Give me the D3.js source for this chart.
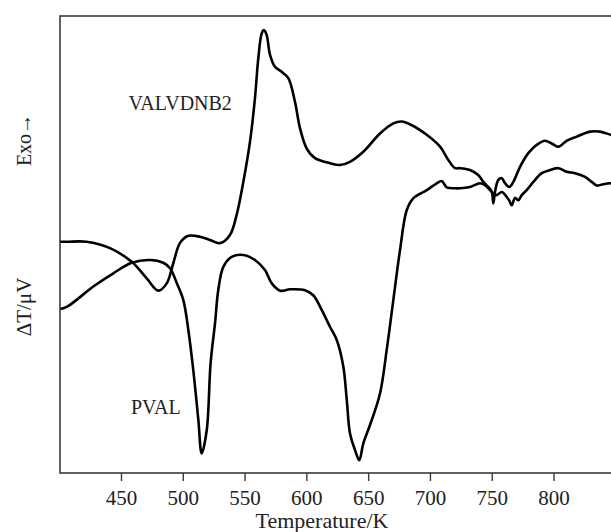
<!DOCTYPE html>
<html>
<head>
<meta charset="utf-8">
<script src="https://cdn.jsdelivr.net/npm/d3@7"></script>
<style>
  body { margin: 0; background: #fff; }
  svg text { font-family: "Liberation Serif", "DejaVu Serif", serif !important; fill: #222; }
</style>
</head>
<body>
<svg id="chart" width="611" height="532"></svg>
<script>
// DTA curves, temperature in K, signal in arbitrary units (0 = bottom of frame, 100 = top)
const tempV = [401, 406.5, 422.2, 441.1, 458.7, 470.8, 480.2, 487, 492.3, 497.7, 504.5, 513.9, 522, 530.1,
  538.2, 543.6, 549, 554.4, 558.4, 561.1, 563.9, 565.7, 567.9, 570.6, 574.6, 580, 585.4, 590.8, 594.9,
  600.3, 607, 619.1, 627.2, 635.3, 646.1, 659.6, 670.4, 677.2, 685.3, 697.4, 708.2, 714.9, 720.3, 724.3,
  732.4, 739.1, 743.2, 747.2, 750, 751.3, 752.7, 755.3, 758.1, 760.8, 764.2, 767.5, 772.9, 779.6, 786.4,
  793.1, 798.5, 803.9, 810.7, 818.8, 829.5, 837.6, 846.5, 850];
const valV = [50.6, 50.6, 50.6, 49.2, 46.2, 42.6, 39.9, 41.5, 45.9, 50.3, 51.9, 51.7, 51.0, 50.3,
  52.1, 56.5, 63.7, 72.5, 82.0, 90.7, 96.2, 96.9, 95.8, 91.5, 88.9, 87.8, 86.4, 81.2, 75.4,
  71.0, 68.9, 67.8, 67.4, 68.1, 70.3, 74.3, 76.5, 76.9, 76.1, 74.0, 71.4, 68.5, 66.7, 66.7,
  66.3, 65.2, 63.7, 62.6, 61.6, 59.0, 61.6, 64.1, 64.5, 63.4, 62.6, 63.7, 67.0, 70.0, 71.8,
  72.7, 72.1, 71.4, 72.7, 73.6, 74.7, 74.7, 74.0, 73.8];

const tempP = [401, 406.5, 427.6, 443.8, 458.7, 473.5, 484.2, 489.7, 495.1, 500.4, 504.5, 508.5, 512.6,
  515.3, 519.4, 522.5, 526.1, 528.7, 532.8, 539.6, 549, 558.4, 566.5, 572, 578.7, 586.8, 598.9, 605.6,
  612.4, 619.1, 624.6, 629.9, 632.7, 635.3, 639.4, 642.8, 646.1, 651.5, 659.6, 665, 670.4, 675.8, 681.2,
  686.5, 697.4, 705.5, 709.5, 713.6, 720.3, 724.3, 732.4, 740.5, 744.6, 748.6, 753.5, 758.3, 761.6, 764,
  766.2, 768.8, 771.5, 774.3, 778.3, 783.7, 790.5, 797.2, 803.9, 810.7, 817.4, 825.5, 830.9, 835, 840.3,
  846.5, 850];
const valP = [35.9, 36.4, 40.8, 43.7, 46.0, 46.6, 46.0, 44.8, 41.6, 37.9, 31.3, 22.5, 11.6,
  4.3, 9.4, 24.0, 32.8, 40.0, 45.1, 47.3, 47.7, 46.6, 44.4, 41.5, 39.9, 40.2, 40.0, 38.9,
  35.7, 32.0, 29.1, 23.3, 16.0, 8.7, 5.0, 2.8, 6.5, 10.5, 17.4, 26.9, 37.9, 48.8, 57.5,
  60.1, 61.9, 63.4, 63.9, 62.5, 62.3, 62.3, 62.6, 63.4, 63.0, 61.9, 60.8, 61.5, 60.6, 59.7,
  58.6, 60.2, 59.7, 60.8, 61.9, 63.7, 65.6, 66.3, 66.7, 65.9, 65.6, 64.8, 63.7, 62.9, 63.2,
  63.4, 63.4];

const xTicks = [450, 500, 550, 600, 650, 700, 750, 800];
const seriesLabels = ["VALVDNB2", "PVAL"];

const svg = d3.select("#chart");
const frame = {left: 60, top: 16, bottom: 473};
const serif = "'Liberation Serif', 'DejaVu Serif', serif";

const x = d3.scaleLinear().domain([400, 850]).range([59.2, 615.3]);
const y = d3.scaleLinear().domain([0, 100]).range([frame.bottom, frame.top]);

// frame (right side runs past the window)
svg.append("rect")
  .attr("x", frame.left).attr("y", frame.top)
  .attr("width", 620 - frame.left).attr("height", frame.bottom - frame.top)
  .attr("fill", "none").attr("stroke", "#3a3a3a").attr("stroke-width", 1.6);

const xAxis = svg.append("g")
  .attr("transform", `translate(0,${frame.bottom})`)
  .call(d3.axisBottom(x).tickValues(xTicks).tickSize(8).tickPadding(9).tickSizeOuter(0));
xAxis.select(".domain").remove();
xAxis.selectAll(".tick line").attr("stroke", "#3a3a3a").attr("stroke-width", 1.4);
xAxis.selectAll(".tick text")
  .style("font-family", serif)
  .style("font-size", "21px").attr("fill", "#222");

svg.append("text")
  .attr("x", 322).attr("y", 528)
  .attr("text-anchor", "middle")
  .style("font-family", serif).style("font-size", "22px")
  .text("Temperature/K");

svg.append("text")
  .attr("transform", "translate(31,140) rotate(-90)")
  .attr("text-anchor", "middle")
  .style("font-family", serif).style("font-size", "20px")
  .text("Exo\u2192");
svg.append("text")
  .attr("transform", "translate(31,307) rotate(-90)")
  .attr("text-anchor", "middle")
  .style("font-family", serif).style("font-size", "21px")
  .text("\u0394T/\u03bcV");

const line = d3.line()
  .x(d => x(d[0]))
  .y(d => y(d[1]))
  .curve(d3.curveCatmullRom.alpha(0.5));

const series = [d3.zip(tempV, valV), d3.zip(tempP, valP)];
svg.selectAll("path.curve")
  .data(series)
  .join("path")
  .attr("class", "curve")
  .attr("d", line)
  .attr("fill", "none")
  .attr("stroke", "#000")
  .attr("stroke-width", 2.6)
  .attr("stroke-linejoin", "round");

svg.append("text").attr("x", 128.5).attr("y", 110)
  .style("font-family", serif).style("font-size", "20px").text(seriesLabels[0]);
svg.append("text").attr("x", 131).attr("y", 414)
  .style("font-family", serif).style("font-size", "20px").text(seriesLabels[1]);
</script>
</body>
</html>
